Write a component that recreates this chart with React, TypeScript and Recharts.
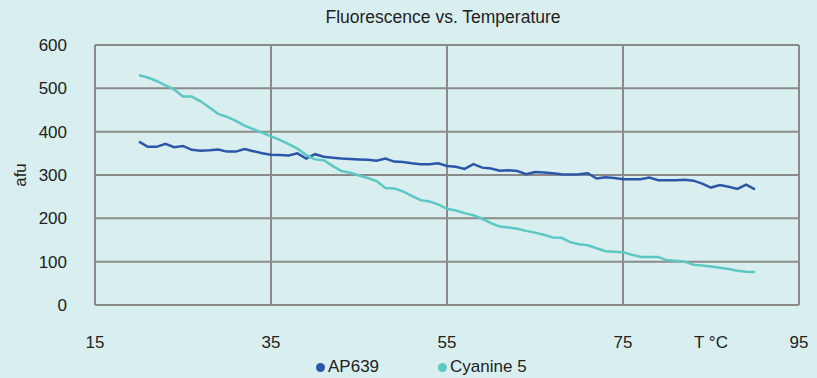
import React from 'react';
import { LineChart, Line, XAxis, YAxis, CartesianGrid, Legend, Label } from 'recharts';

const temperatures = [
  20, 21, 22, 23, 24, 25, 26, 27, 28, 29,
  30, 31, 32, 33, 34, 35, 36, 37, 38, 39,
  40, 41, 42, 43, 44, 45, 46, 47, 48, 49,
  50, 51, 52, 53, 54, 55, 56, 57, 58, 59,
  60, 61, 62, 63, 64, 65, 66, 67, 68, 69,
  70, 71, 72, 73, 74, 75, 76, 77, 78, 79,
  80, 81, 82, 83, 84, 85, 86, 87, 88, 89, 90,
];

const ap639 = [
  377, 365, 365, 372, 364, 367, 358, 356, 357, 359,
  354, 354, 360, 355, 350, 347, 346, 345, 350, 338,
  348, 342, 340, 338, 337, 336, 335, 333, 338, 331,
  330, 327, 325, 325, 327, 321, 319, 314, 325, 317,
  315, 310, 311, 309, 302, 307, 306, 304, 302, 301,
  302, 304, 292, 295, 293, 290, 290, 290, 294, 288,
  288, 288, 289, 287, 280, 271, 277, 273, 268, 278, 267,
];

const cyanine5 = [
  530, 525, 517, 507, 497, 481, 481, 470, 456, 441,
  434, 425, 414, 406, 398, 389, 381, 371, 361, 346,
  336, 334, 321, 309, 305, 299, 293, 286, 270, 269,
  262, 252, 242, 239, 232, 222, 218, 212, 207, 199,
  189, 181, 179, 176, 171, 167, 162, 156, 155, 145,
  140, 138, 131, 124, 123, 122, 116, 111, 111, 111,
  103, 102, 100, 93, 91, 89, 86, 83, 79, 77, 76,
];

const xTicks = [15, 35, 55, 75, 95];
const yTicks = [0, 100, 200, 300, 400, 500, 600];
const seriesNames = ['AP639', 'Cyanine 5'];
const seriesColors = ['#2b57a9', '#5dc8c3'];
const title = 'Fluorescence vs. Temperature';
const xUnitLabel = 'T °C';
const xUnitAt = 85;
const yLabel = 'afu';

const data = temperatures.map((t, i) => ({ t, ap639: ap639[i], cyanine5: cyanine5[i] }));

const FONT = '"Liberation Sans", Arial, sans-serif';
const TEXT = '#222222';

const LegendContent = (props: any) => {
  const payload = props.payload || [];
  return (
    <div style={{ display: 'flex', alignItems: 'center', fontFamily: FONT, fontSize: 17, color: TEXT, whiteSpace: 'nowrap' }}>
      {payload.map((p: any, i: number) => (
        <div key={i} style={{ display: 'flex', alignItems: 'center', marginRight: i === 0 ? 59 : 0 }}>
          <span style={{ display: 'inline-block', width: 9, height: 9, borderRadius: '50%', background: p.color, marginRight: 3 }} />
          <span>{p.value}</span>
        </div>
      ))}
    </div>
  );
};

const UnitLabel = (props: any) => {
  const vb = props.viewBox || {};
  const x = vb.x + (vb.width * (xUnitAt - 15)) / (95 - 15);
  return (
    <text x={x} y={vb.y + 31} dy="0.71em" textAnchor="middle" fontSize={17} fill={TEXT} fontFamily={FONT}>
      {xUnitLabel}
    </text>
  );
};

export default function App() {
  return (
    <div style={{ position: 'absolute', left: 0, top: 0, width: 817, height: 378, background: '#d9eeef', fontFamily: FONT }}>
      <div style={{ position: 'absolute', top: 7, left: 443, transform: 'translateX(-50%)', fontSize: 17.5, color: TEXT, whiteSpace: 'nowrap' }}>
        {title}
      </div>
      <LineChart width={817} height={378} data={data} margin={{ top: 45, right: 18, bottom: 43, left: 10 }}>
        <CartesianGrid stroke="#8a8a8a" strokeWidth={2} />
        <XAxis
          dataKey="t"
          type="number"
          domain={[15, 95]}
          ticks={xTicks}
          axisLine={false}
          tickLine={false}
          tickSize={0}
          tickMargin={31}
          height={30}
          tick={{ fontSize: 17, fill: TEXT, fontFamily: FONT }}
        >
          <Label content={<UnitLabel />} />
        </XAxis>
        <YAxis
          type="number"
          domain={[0, 600]}
          ticks={yTicks}
          axisLine={false}
          tickLine={false}
          tickSize={0}
          tickMargin={28}
          width={85}
          tick={{ fontSize: 17, fill: TEXT, fontFamily: FONT }}
          label={{ value: yLabel, angle: -90, position: 'insideLeft', offset: 10, style: { textAnchor: 'middle', fontSize: 17, fill: TEXT, fontFamily: FONT } }}
        />
        <Legend
          layout="horizontal"
          verticalAlign="middle"
          align="center"
          content={<LegendContent />}
          wrapperStyle={{ position: 'absolute', left: 316, top: 357, width: 'auto', height: 'auto' }}
        />
        <Line type="linear" dataKey="ap639" name={seriesNames[0]} stroke={seriesColors[0]} strokeWidth={2.5} dot={false} isAnimationActive={false} />
        <Line type="linear" dataKey="cyanine5" name={seriesNames[1]} stroke={seriesColors[1]} strokeWidth={2.5} dot={false} isAnimationActive={false} />
      </LineChart>
    </div>
  );
}
